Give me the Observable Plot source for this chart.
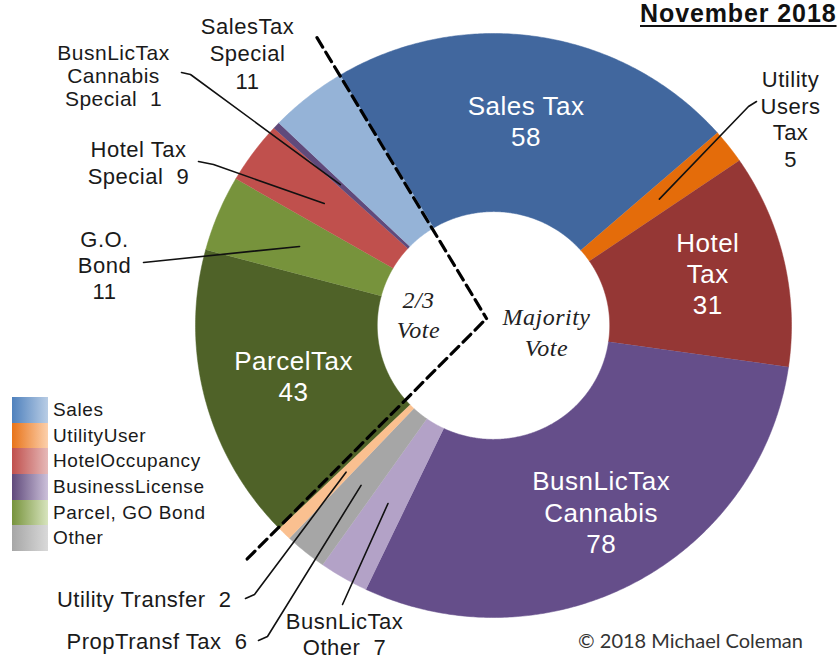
<!DOCTYPE html>
<html><head><meta charset="utf-8">
<script src="https://cdn.jsdelivr.net/npm/d3@7"></script>
<script src="https://cdn.jsdelivr.net/npm/@observablehq/plot@0.6"></script>
<style>
body{margin:0;background:#fff;}
#wrap{position:relative;width:838px;height:660px;overflow:hidden;font-family:"Liberation Sans",Arial,sans-serif;}
#chart{position:absolute;left:0;top:0;}
#chart svg text{letter-spacing:0.5px;}
#chart svg g[font-family="Lato"] text{letter-spacing:0;}
.title{position:absolute;left:640px;top:1px;font-size:25px;font-weight:bold;letter-spacing:0.9px;text-decoration:underline;text-decoration-thickness:2px;text-underline-offset:3px;white-space:nowrap;color:#111;line-height:25px;}
.legend{position:absolute;left:12px;top:397px;}
.row{position:relative;height:25.7px;}
.sw{position:absolute;left:0;top:0;width:36px;height:25.7px;}
.lt{position:absolute;left:41px;top:0;font-size:19px;letter-spacing:0.6px;line-height:25.7px;color:#1a1a1a;white-space:nowrap;}
</style></head><body>
<div id="wrap"><div id="chart"></div></div>
<script>
// ---- data ----
const categories = ["Sales Tax","Utility Users Tax","Hotel Tax","BusnLicTax Cannabis","BusnLicTax Other","PropTransf Tax","Utility Transfer","ParcelTax","G.O. Bond","Hotel Tax Special","BusnLicTax Cannabis Special","SalesTax Special"];
const values = [58, 5, 31, 78, 7, 6, 2, 43, 11, 9, 1, 11];
const labelNames = ["Sales Tax","Utility\nUsers\nTax","Hotel\nTax","BusnLicTax\nCannabis","BusnLicTax\nOther","PropTransf Tax","Utility Transfer","ParcelTax","G.O.\nBond","Hotel Tax\nSpecial","BusnLicTax\nCannabis\nSpecial","SalesTax\nSpecial"];
const sliceColors = ["#41679e","#e46c0a","#953735","#654e8a","#b3a2c7","#a6a6a6","#fac090","#4f6228","#77933c","#c0504d","#604a7b","#95b3d7"];
const legendNames = ["Sales","UtilityUser","HotelOccupancy","BusinessLicense","Parcel, GO Bond","Other"];
const legendFrom = ["#4f81bd","#e8741a","#c0504d","#604a7b","#77933c","#a6a6a6"];
const legendTo = ["#b9cde5","#fcd0ac","#e6b9b8","#ccc1da","#d7e4bd","#d9d9d9"];
const voteLabels = ["2/3\nVote","Majority\nVote"];
const titleText = "November 2018";
const creditText = "\u00a9 2018 Michael Coleman";

// ---- layout ----
const W = 838, H = 660;
const CX = 493, CY = 325, RX = 298, RY = 292;
const INNER = 0.39, START = -31;
const px2x = p => (p - CX) / RX;
const py2y = p => (CY - p) / RY;
const insideLayout = {0:{r:0.71, dx:0, dy:0}, 2:{r:0.735, dx:1, dy:-4}, 3:{r:0.735, dx:4, dy:-3}, 7:{r:0.70, dx:2, dy:-1}};
const outsideLayout = [
  {i:11, x:247, y:52, lh:1.25, fs:22, anchor:"middle", sep:"\n"},
  {i:10, x:113, y:75, lh:1.1, fs:21, anchor:"middle", sep:"\u00a0 "},
  {i:9, x:138, y:161, lh:1.23, fs:22, anchor:"middle", sep:"\u00a0 "},
  {i:8, x:104, y:264, lh:1.2, fs:22, anchor:"middle", sep:"\n"},
  {i:1, x:790, y:118, lh:1.21, fs:22, anchor:"middle", sep:"\n"},
  {i:6, x:231, y:598, lh:1.2, fs:22, anchor:"end", sep:"\u00a0 "},
  {i:5, x:247, y:640, lh:1.2, fs:22, anchor:"end", sep:"\u00a0 "},
  {i:4, x:344, y:633, lh:1.2, fs:22, anchor:"middle", sep:"\u00a0 "}
];
const leaderLayout = [
  {i:10, pts:[[181,72],[190,74]]},
  {i:9, pts:[[198,161],[213,164]]},
  {i:8, pts:[[143,262]]},
  {i:1, pts:[[756,101],[748,106]]},
  {i:6, pts:[[245,598],[254,594]]},
  {i:5, pts:[[258,640],[267,636]]},
  {i:4, pts:[[342,604]]}
];
const LEAD_R = 0.705, DASH_R = 1.15;
const DASH_VERTEX = [486, 318];

// ---- geometry from data ----
const total = d3.sum(values);
let acc = 0;
const slices = categories.map((c, i) => {
  const a0 = START + acc / total * 360; acc += values[i];
  const a1 = START + acc / total * 360;
  return {i, name: c, value: values[i], a0, a1, mid: (a0 + a1) / 2, color: sliceColors[i]};
});
const pt = (a, r) => ({x: r * Math.sin(a * Math.PI / 180), y: r * Math.cos(a * Math.PI / 180)});
const polys = slices.flatMap(s => {
  const n = Math.max(2, Math.ceil((s.a1 - s.a0) / 0.5));
  const out = [];
  for (let k = 0; k <= n; k++) out.push({...pt(s.a0 + (s.a1 - s.a0) * k / n, 1), name: s.name, color: s.color});
  for (let k = n; k >= 0; k--) out.push({...pt(s.a0 + (s.a1 - s.a0) * k / n, INNER), name: s.name, color: s.color});
  return out;
});
// dashed divider: start of first slice and end of "Utility Transfer" (Majority / 2/3 split)
const splitIdx = categories.indexOf("Utility Transfer");
const dashes = [slices[0].a0, slices[splitIdx].a1].flatMap((a, k) => [
  {id: k, ...pt(a, DASH_R)}, {id: k, x: px2x(DASH_VERTEX[0]), y: py2y(DASH_VERTEX[1])}
]);
const leaders = leaderLayout.flatMap((L, k) => {
  const s = slices[L.i];
  return [...L.pts.map(p => ({id: k, x: px2x(p[0]), y: py2y(p[1])})), {id: k, ...pt(s.mid, LEAD_R)}];
});
const insideTexts = Object.entries(insideLayout).map(([i, L]) => {
  const s = slices[+i];
  const p = pt(s.mid, L.r);
  return {x: p.x + L.dx / RX, y: p.y - L.dy / RY, text: labelNames[s.i] + "\n" + s.value};
});
const outsideTexts = outsideLayout.map(L => ({
  x: px2x(L.x), y: py2y(L.y), text: labelNames[L.i] + L.sep + values[L.i], lh: L.lh, fs: L.fs, anchor: L.anchor
}));
const voteTexts = [
  {x: px2x(418), y: py2y(313), text: voteLabels[0], lh: 1.25},
  {x: px2x(546), y: py2y(330), text: voteLabels[1], lh: 1.32}
];

const marks = [
  Plot.line(polys, {x: "x", y: "y", z: "name", fill: "color", stroke: "color", strokeWidth: 0.5, curve: "linear"}),
  Plot.line(dashes, {x: "x", y: "y", z: "id", stroke: "#000", strokeWidth: 3.2, strokeDasharray: "11,6"}),
  Plot.line(leaders, {x: "x", y: "y", z: "id", stroke: "#111", strokeWidth: 1.6}),
  Plot.text(insideTexts, {x: "x", y: "y", text: "text", fill: "white", fontSize: 26, lineHeight: 1.2, fontFamily: "Liberation Sans"})
];
for (const grp of d3.group(outsideTexts, d => d.lh + "|" + d.fs + "|" + d.anchor).values()) {
  const g = grp[0];
  marks.push(Plot.text(grp, {x: "x", y: "y", text: "text", fill: "#1a1a1a", fontSize: g.fs, lineHeight: g.lh, textAnchor: g.anchor, fontFamily: "Liberation Sans"}));
}
for (const v of voteTexts) {
  marks.push(Plot.text([v], {x: "x", y: "y", text: "text", fill: "#222", fontSize: 24, lineHeight: v.lh, fontStyle: "italic", fontFamily: "Liberation Serif"}));
}
marks.push(Plot.text([creditText], {x: px2x(690), y: py2y(641), text: d => d, fill: "#333", fontSize: 20, fontFamily: "Lato"}));

const chart = Plot.plot({
  width: W, height: H, margin: 0,
  x: {domain: [px2x(0), px2x(W)], axis: null},
  y: {domain: [py2y(H), py2y(0)], axis: null},
  style: {background: "white", overflow: "visible"},
  marks
});
document.getElementById("chart").appendChild(chart);

// title and legend
const wrap = document.getElementById("wrap");
const t = document.createElement("div"); t.className = "title"; t.textContent = titleText; wrap.appendChild(t);
const lg = document.createElement("div"); lg.className = "legend";
legendNames.forEach((n, i) => {
  const r = document.createElement("div"); r.className = "row";
  const sw = document.createElement("div"); sw.className = "sw";
  sw.style.background = `linear-gradient(to right, ${legendFrom[i]}, ${legendTo[i]})`;
  const lt = document.createElement("div"); lt.className = "lt"; lt.textContent = n;
  r.appendChild(sw); r.appendChild(lt); lg.appendChild(r);
});
wrap.appendChild(lg);
</script>
</body></html>
